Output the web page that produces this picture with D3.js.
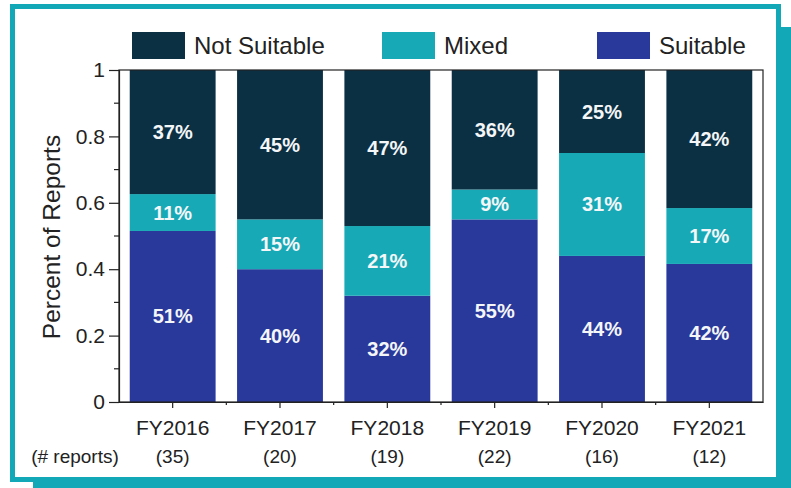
<!DOCTYPE html>
<html>
<head>
<meta charset="utf-8">
<script src="https://cdn.jsdelivr.net/npm/d3@7"></script>
<style>
    body { margin: 0; background: #fff; }
    svg { display: block; font-family: "Liberation Sans", Arial, sans-serif; }
</style>
</head>
<body>
<svg id="chart" width="791" height="488"></svg>
<script>
// data
const years = ["FY2016", "FY2017", "FY2018", "FY2019", "FY2020", "FY2021"];
const reportCounts = [35, 20, 19, 22, 16, 12];
const suitable = [51, 40, 32, 55, 44, 42];
const mixed = [11, 15, 21, 9, 31, 17];
const notSuitable = [37, 45, 47, 36, 25, 42];
const seriesNames = ["Suitable", "Mixed", "Not Suitable"];
const legendOrder = ["Not Suitable", "Mixed", "Suitable"];
const yTicks = [0, 0.2, 0.4, 0.6, 0.8, 1];
const yMinorTicks = [0.1, 0.3, 0.5, 0.7, 0.9];

const colors = {
    "Not Suitable": "#0b3044",
    "Mixed": "#17a9b6",
    "Suitable": "#29399b"
};
const frameColor = "#12a8b8";

let svg = d3.select("#chart");

// frame + offset shadow
svg.append("rect")
    .attr("x", 33).attr("y", 27)
    .attr("width", 758).attr("height", 461)
    .attr("fill", frameColor);
svg.append("rect")
    .attr("x", 12.5).attr("y", 6.5)
    .attr("width", 766).attr("height", 473)
    .attr("fill", "#fff")
    .attr("stroke", frameColor)
    .attr("stroke-width", 5);

// build rows for the stack
let rows = years.map(function (y, i) {
    return {
        year: y,
        "Suitable": suitable[i],
        "Mixed": mixed[i],
        "Not Suitable": notSuitable[i]
    };
});

// expand offset so each bar fills 0..1 (labels are rounded)
let stacked = d3.stack()
    .keys(seriesNames)
    .offset(d3.stackOffsetExpand)(rows);

let plotLeft = 119, plotRight = 763, plotTop = 70, plotBottom = 402;

let x = d3.scaleBand()
    .domain(years)
    .range([plotLeft, plotRight])
    .paddingInner(0.2)
    .paddingOuter(0.1);

let y = d3.scaleLinear()
    .domain([0, 1])
    .range([plotBottom, plotTop]);

// bars
let barsG = svg.append("g").attr("id", "barsG");
stacked.forEach(function (layer) {
    barsG.selectAll("rect.s" + layer.index)
        .data(layer)
        .enter()
        .append("rect")
        .attr("class", "s" + layer.index)
        .attr("x", function (d) { return x(d.data.year); })
        .attr("width", x.bandwidth())
        .attr("y", function (d) { return y(d[1]); })
        .attr("height", function (d) { return y(d[0]) - y(d[1]); })
        .attr("fill", colors[layer.key]);
});

// labels in segments
let labelsG = svg.append("g").attr("id", "labelsG");
stacked.forEach(function (layer) {
    labelsG.selectAll("text.l" + layer.index)
        .data(layer)
        .enter()
        .append("text")
        .attr("class", "l" + layer.index)
        .attr("x", function (d) { return x(d.data.year) + x.bandwidth() / 2; })
        .attr("y", function (d) { return (y(d[0]) + y(d[1])) / 2; })
        .attr("dy", ".35em")
        .attr("text-anchor", "middle")
        .attr("fill", "#f4f6f8")
        .attr("font-weight", "bold")
        .attr("font-size", 20)
        .text(function (d) { return d.data[layer.key] + "%"; });
});

// plot box
svg.append("rect")
    .attr("x", plotLeft).attr("y", plotTop)
    .attr("width", plotRight - plotLeft).attr("height", plotBottom - plotTop)
    .attr("fill", "none")
    .attr("stroke", "#222")
    .attr("stroke-width", 1.2);

// y axis
let yAxis = d3.axisLeft(y)
    .tickValues(yTicks)
    .tickFormat(function (d) { return d === 0 || d === 1 ? d : d3.format(".1f")(d); })
    .tickSize(10)
    .tickPadding(4);
let yG = svg.append("g")
    .attr("transform", "translate(" + plotLeft + ",0)")
    .call(yAxis);
yG.select(".domain").attr("stroke", "#222").attr("stroke-width", 1.2);
yG.selectAll("text").attr("font-size", 21).attr("fill", "#222").attr("font-family", null);
yG.selectAll("line").attr("stroke", "#222").attr("stroke-width", 1.2);

// y minor ticks
svg.append("g").selectAll("line")
    .data(yMinorTicks)
    .enter()
    .append("line")
    .attr("x1", plotLeft - 5).attr("x2", plotLeft)
    .attr("y1", function (d) { return y(d); })
    .attr("y2", function (d) { return y(d); })
    .attr("stroke", "#222")
    .attr("stroke-width", 1.2);

// x axis
let xAxis = d3.axisBottom(x).tickSize(6).tickFormat("").tickSizeOuter(0);
let xG = svg.append("g")
    .attr("transform", "translate(0," + plotBottom + ")")
    .call(xAxis);
xG.select(".domain").attr("stroke", "#222").attr("stroke-width", 1.2);
xG.selectAll("line").attr("stroke", "#222").attr("stroke-width", 1.2);

// x minor ticks between bars
let step = x.step();
svg.append("g").selectAll("line")
    .data(years.slice(1))
    .enter()
    .append("line")
    .attr("x1", function (d) { return x(d) - step * x.paddingInner() / 2; })
    .attr("x2", function (d) { return x(d) - step * x.paddingInner() / 2; })
    .attr("y1", plotBottom).attr("y2", plotBottom + 3)
    .attr("stroke", "#222")
    .attr("stroke-width", 1.2);

// category labels
svg.append("g").selectAll("text")
    .data(years)
    .enter()
    .append("text")
    .attr("x", function (d) { return x(d) + x.bandwidth() / 2; })
    .attr("y", 435)
    .attr("text-anchor", "middle")
    .attr("font-size", 21)
    .attr("fill", "#222")
    .text(function (d) { return d; });

svg.append("g").selectAll("text")
    .data(reportCounts)
    .enter()
    .append("text")
    .attr("x", function (d, i) { return x(years[i]) + x.bandwidth() / 2; })
    .attr("y", 463)
    .attr("text-anchor", "middle")
    .attr("font-size", 19)
    .attr("fill", "#222")
    .text(function (d) { return "(" + d + ")"; });

svg.append("text")
    .attr("x", 75)
    .attr("y", 463)
    .attr("text-anchor", "middle")
    .attr("font-size", 19)
    .attr("fill", "#222")
    .text("(# reports)");

// y title
svg.append("text")
    .attr("transform", "translate(60,237) rotate(-90)")
    .attr("text-anchor", "middle")
    .attr("font-size", 24.5)
    .attr("fill", "#222")
    .text("Percent of Reports");

// legend
let legendX = [132, 382, 597];
let legendG = svg.append("g").attr("id", "legendG");
legendG.selectAll("rect")
    .data(legendOrder)
    .enter()
    .append("rect")
    .attr("x", function (d, i) { return legendX[i]; })
    .attr("y", 32)
    .attr("width", 53)
    .attr("height", 27)
    .attr("fill", function (d) { return colors[d]; });
legendG.selectAll("text")
    .data(legendOrder)
    .enter()
    .append("text")
    .attr("x", function (d, i) { return legendX[i] + 62; })
    .attr("y", 54)
    .attr("font-size", 24)
    .attr("fill", "#222")
    .text(function (d) { return d; });
</script>
</body>
</html>
